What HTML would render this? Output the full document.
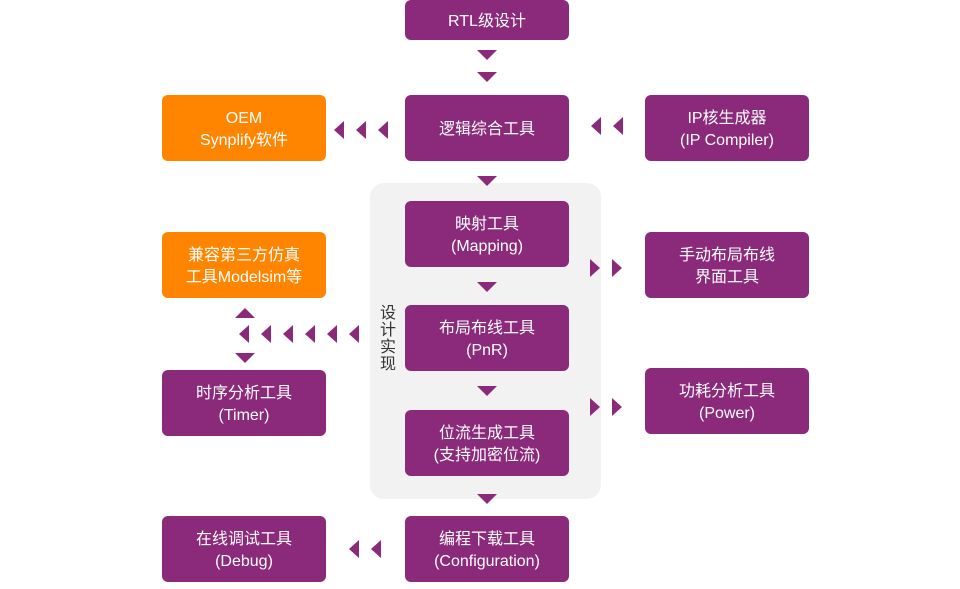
<!DOCTYPE html>
<html><head><meta charset="utf-8"><style>
html,body{margin:0;padding:0;background:#fff;width:960px;height:589px;overflow:hidden}
svg text{font-family:"Liberation Sans","Noto Sans CJK SC",sans-serif;font-size:16px;fill:#fff;text-anchor:middle}
</style></head><body>
<svg width="960" height="589" viewBox="0 0 960 589" xmlns="http://www.w3.org/2000/svg">
<rect x="370" y="183" width="231" height="316" rx="14" fill="#f2f2f2"/>
<g fill="#8b2a7b">
<rect x="405" y="0" width="164" height="40" rx="6"/>
<rect x="405" y="95" width="164" height="66" rx="6"/>
<rect x="645" y="95" width="164" height="66" rx="6"/>
<rect x="405" y="201" width="164" height="66" rx="6"/>
<rect x="645" y="232" width="164" height="66" rx="6"/>
<rect x="405" y="305" width="164" height="66" rx="6"/>
<rect x="162" y="370" width="164" height="66" rx="6"/>
<rect x="645" y="368" width="164" height="66" rx="6"/>
<rect x="405" y="410" width="164" height="66" rx="6"/>
<rect x="405" y="516" width="164" height="66" rx="6"/>
<rect x="162" y="516" width="164" height="66" rx="6"/>
<!-- down arrows -->
<polygon points="477,50 497,50 487,60"/>
<polygon points="477,72 497,72 487,82"/>
<polygon points="477,176 497,176 487,186"/>
<polygon points="477,282 497,282 487,292"/>
<polygon points="477,386 497,386 487,396"/>
<polygon points="477,494 497,494 487,504"/>
<polygon points="235,308 255,308 245,318" transform="rotate(180 245 313)"/>
<polygon points="235,353 255,353 245,363"/>
<!-- left arrows -->
<polygon points="344,121 344,139 334,130"/>
<polygon points="366,121 366,139 356,130"/>
<polygon points="388,121 388,139 378,130"/>
<polygon points="601,117 601,135 591,126"/>
<polygon points="623,117 623,135 613,126"/>
<polygon points="249,325 249,343 239,334"/>
<polygon points="271,325 271,343 261,334"/>
<polygon points="293,325 293,343 283,334"/>
<polygon points="315,325 315,343 305,334"/>
<polygon points="337,325 337,343 327,334"/>
<polygon points="359,325 359,343 349,334"/>
<polygon points="359,540 359,558 349,549"/>
<polygon points="381,540 381,558 371,549"/>
<!-- right arrows -->
<polygon points="590,259 590,277 600,268"/>
<polygon points="612,259 612,277 622,268"/>
<polygon points="590,398 590,416 600,407"/>
<polygon points="612,398 612,416 622,407"/>
</g>
<g fill="#ff8400">
<rect x="162" y="95" width="164" height="66" rx="6"/>
<rect x="162" y="232" width="164" height="66" rx="6"/>
</g>
<text x="487" y="26">RTL级设计</text>
<text x="487" y="134">逻辑综合工具</text>
<text x="727" y="123">IP核生成器</text>
<text x="727" y="145">(IP Compiler)</text>
<text x="244" y="123">OEM</text>
<text x="244" y="145">Synplify软件</text>
<text x="487" y="229">映射工具</text>
<text x="487" y="251">(Mapping)</text>
<text x="244" y="260">兼容第三方仿真</text>
<text x="244" y="282">工具Modelsim等</text>
<text x="727" y="260">手动布局布线</text>
<text x="727" y="282">界面工具</text>
<text x="487" y="333">布局布线工具</text>
<text x="487" y="355">(PnR)</text>
<text x="244" y="398">时序分析工具</text>
<text x="244" y="420">(Timer)</text>
<text x="727" y="396">功耗分析工具</text>
<text x="727" y="418">(Power)</text>
<text x="487" y="438">位流生成工具</text>
<text x="487" y="460">(支持加密位流)</text>
<text x="487" y="544">编程下载工具</text>
<text x="487" y="566">(Configuration)</text>
<text x="244" y="544">在线调试工具</text>
<text x="244" y="566">(Debug)</text>
<g style="fill:#333;font-size:15px">
<text x="388" y="318" style="fill:#333">设</text>
<text x="388" y="335" style="fill:#333">计</text>
<text x="388" y="352" style="fill:#333">实</text>
<text x="388" y="369" style="fill:#333">现</text>
</g>
</svg>
</body></html>
